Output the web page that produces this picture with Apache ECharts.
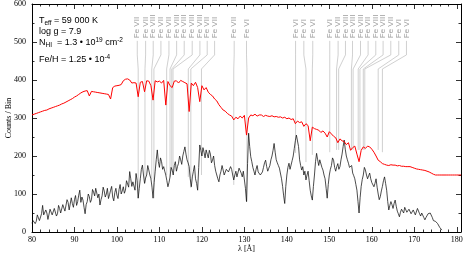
<!DOCTYPE html>
<html><head><meta charset="utf-8">
<script src="https://cdn.jsdelivr.net/npm/echarts@6/dist/echarts.min.js"></script>
<style>html,body{margin:0;padding:0;background:#fff}#c{width:466px;height:255px}</style>
</head><body><div id="c"></div>
<script>
// wavelength sampling (Å)
const modelStart = 80, modelStep = 0.5;
const obsStart = 80, obsStep = 0.25;
// model spectrum (red), counts/bin, 80 … 181 Å
const modelCounts = [
308,310,312,314,316,318,320,321,324,326,
328,330,332,334,337,339,342,345,348,351,
355,358,362,366,369,371,372,358,370,369,
368,367,366,365,364,363,362,350,380,384,
385,386,388,398,402,403,400,392,393,392,
356,394,396,369,398,397,385,347,398,395,
397,392,399,334,396,385,380,397,398,392,
399,396,393,390,317,392,385,394,380,343,
385,374,380,368,362,358,350,345,335,328,
321,318,312,308,305,295,302,298,305,300,
307,255,300,308,306,310,305,308,308,304,
307,305,304,306,303,304,302,303,300,302,
298,300,296,298,285,292,288,290,278,285,
280,240,276,272,270,268,262,266,260,250,
264,258,252,248,235,245,240,238,230,235,
215,222,226,205,185,215,224,220,226,224,
218,210,200,189,185,180,178,176,175,177,
176,176,174,175,173,173,172,172,172,170,
168,166,165,164,163,162,160,158,155,152,
150,150,150,150,150,150,150,150,150,150,
150,150,150];
// observed spectrum (black), counts/bin, 80 … 176.5 Å
const obsCounts = [
23,30,32,22,28,45,40,30,35,48,
70,45,42,58,50,33,38,60,55,45,
40,62,58,42,48,70,62,50,55,72,
67,55,60,85,78,58,62,90,75,65,
85,96,70,80,97,110,78,92,84,65,
48,72,80,100,93,78,85,112,105,95,
115,120,90,100,71,85,95,118,108,92,
100,115,88,98,110,120,92,82,104,115,
97,88,112,125,100,108,119,102,110,135,
130,118,159,140,120,132,128,110,154,135,
89,115,140,165,176,150,128,142,150,175,
163,150,140,118,89,130,160,190,216,185,
170,195,185,165,172,160,150,135,119,130,
145,170,163,150,175,185,160,172,181,200,
190,178,200,212,224,205,190,182,172,140,
119,145,160,175,140,128,110,170,229,215,
200,222,210,195,216,205,195,215,205,182,
189,200,175,160,150,140,132,150,160,175,
163,150,148,165,170,158,154,172,165,150,
137,150,160,145,150,168,172,155,145,160,
155,115,80,180,260,225,198,185,170,160,
150,165,175,158,163,150,145,158,170,182,
189,172,160,168,175,190,200,215,233,210,
190,182,175,168,163,140,120,95,75,120,
150,170,181,165,170,188,200,220,240,255,
260,225,190,175,163,172,150,160,137,150,
160,135,110,95,84,120,150,185,207,190,
175,190,185,170,163,150,140,115,89,125,
150,165,175,195,189,170,160,172,180,165,
172,190,205,225,242,218,200,190,181,170,
165,175,155,148,140,125,110,80,50,90,
120,138,150,170,163,150,140,148,155,140,
130,135,119,128,140,118,100,85,93,108,
120,135,145,128,110,80,58,70,80,72,
62,75,84,68,55,48,40,52,60,55,
50,65,62,52,48,60,58,48,45,58,
55,45,50,62,58,48,42,50,45,38,
32,38,40,48,53,50,45,38,30,32,
28,25,22,18,12,8,5];
// line identifications
const idLabelLam = [104.78,106.75,108.54,110.35,112.24,114.05,115.84,117.72,119.53,121.25,122.99,127.6,130.5,142.05,144.0,146.1,150.1,152.07,153.8,155.46,157.34,159.13,160.94,162.66,164.47,166.35,168.16];
const idLineLam  = [105.0,106.6,108.2,108.7,111.7,112.5,112.9,113.2,116.8,117.4,119.9,127.5,130.6,142.05,144.5,146.0,150.1,151.7,152.2,155.2,155.6,156.8,157.2,158.0,158.35,161.5,162.5];
const idEnd      = [89,128,140,89,150,145,160,163,145,116,150,124,80,208,184,203,210,216,216,216,216,216,216,216,216,216,210];
const idIon      = ['VII','VII','VIII','VII','VII','VIII','VIII','VIII','VIII','VII','VII','VII','VI','VI','VI','VI','VI','VII','VIII','VIII','VIII','VII','VIII','VIII','VII','VI','VI'];
// axes
const xMin = 80, xMax = 181, xStep = 10;
const yMin = 0, yMax = 600, yStep = 100;

const modelData = modelCounts.map((v,i)=>[modelStart+modelStep*i, v]);
const obsData = obsCounts.map((v,i)=>[obsStart+obsStep*i, v]);
const idData = idLabelLam.map((l,i)=>[l, idLineLam[i], idEnd[i], i]);

const serif = '"Liberation Serif","DejaVu Serif",serif';
const sans = '"Liberation Sans",Arial,sans-serif';
const chart = echarts.init(document.getElementById('c'), null, {renderer:'canvas'});

function xAx(pos, show){
  return {type:'value', min:xMin, max:xMax, interval:xStep, position:pos,
    axisLine:{show:true,onZero:false,lineStyle:{color:'#000',width:1}},
    axisTick:{show:true,inside:true,length:5,lineStyle:{color:'#000',width:0.8}},
    minorTick:{show:true,splitNumber:5,length:2.5,lineStyle:{color:'#000',width:0.8}},
    splitLine:{show:false},
    axisLabel:{show:show,color:'#000',fontFamily:serif,fontSize:8,margin:4,showMaxLabel:false,
      formatter:v=> (v%10===0? String(v):'')},
    name: show?'λ [Å]':'', nameLocation:'middle', nameGap:13, nameMoveOverlap:false,
    nameTextStyle:{fontFamily:serif,fontSize:8,color:'#000'}};
}
function yAx(pos, show){
  return {type:'value', min:yMin, max:yMax, interval:yStep, position:pos,
    axisLine:{show:true,onZero:false,lineStyle:{color:'#000',width:1}},
    axisTick:{show:true,inside:true,length:5,lineStyle:{color:'#000',width:0.8}},
    minorTick:{show:true,splitNumber:2,length:2.5,lineStyle:{color:'#000',width:0.8}},
    splitLine:{show:false},
    axisLabel:{show:show,color:'#000',fontFamily:serif,fontSize:8,margin:6},
    name: show?'Counts / Bin':'', nameLocation:'middle', nameGap:19, nameMoveOverlap:false,
    nameTextStyle:{fontFamily:serif,fontSize:8,color:'#000'}};
}

// annotation lines built from pieces: [text, kind] kind: b=base, s=sub, p=sup
const mctx = document.createElement('canvas').getContext('2d');
function annLine(parts, x, y){
  const els = [];
  let cx = x;
  parts.forEach(([t,k])=>{
    const fs = k==='b' ? 9 : 6.5;
    const dy = k==='b' ? 0 : (k==='s' ? 2.5 : -3);
    const font = fs+'px '+sans;
    mctx.font = font;
    els.push({type:'text', x:cx, y:y+dy, z:100,
      style:{text:t, fill:'#000', font:font, align:'left', verticalAlign:'middle'}});
    cx += mctx.measureText(t).width;
  });
  return els;
}

const graphics = [].concat(
  annLine([['T','b'],['eff','s'],[' = 59 000 K','b']], 39, 21),
  annLine([['log g = 7.9','b']], 39, 32),
  annLine([['N','b'],['HI','s'],['  = 1.3 • 10','b'],['19','p'],[' cm','b'],['-2','p']], 39, 43),
  annLine([['Fe/H = 1.25 • 10','b'],['-4','p']], 39, 60)
);

chart.setOption({
  animation:false,
  grid:{left:32,right:5,top:4,bottom:23,containLabel:false,outerBoundsMode:'none'},
  xAxis:[xAx('bottom',true), xAx('top',false)],
  yAxis:[yAx('left',true), yAx('right',false)],
  graphic:graphics,
  series:[
    {type:'custom', xAxisIndex:0, yAxisIndex:0, z:1, data:idData,
     renderItem:function(params, api){
       const lx = api.value(0), tx = api.value(1), end = api.value(2), i = api.value(3);
       const pT = api.coord([lx, 510]);
       const p0 = api.coord([lx, 503]);
       const p1 = api.coord([lx, 466]);
       const p2 = api.coord([tx, 429]);
       const p3 = api.coord([tx, end]);
       return {type:'group', children:[
         {type:'polyline', shape:{points:[p0,p1,p2,p3]}, style:{stroke:'#c4c4c4',lineWidth:0.8,fill:null}},
         {type:'text', x:pT[0], y:pT[1], rotation:Math.PI/2,
          style:{text:'Fe '+idIon[i], fill:'#9a9a9a', font:'8px '+sans, align:'left', verticalAlign:'middle'}}
       ]};
     }},
    {type:'line', data:obsData, showSymbol:false, z:3,
     lineStyle:{color:'#111',width:0.75}},
    {type:'line', data:modelData, showSymbol:false, z:4,
     lineStyle:{color:'#ff0000',width:1}}
  ]
});
</script></body></html>
